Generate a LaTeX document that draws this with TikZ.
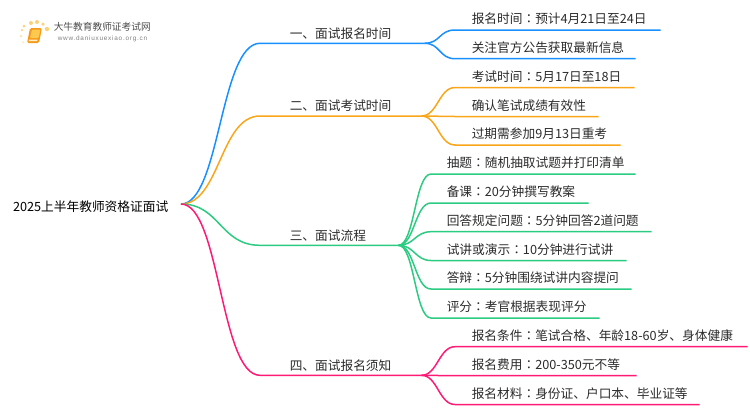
\documentclass[tikz,border=0pt]{standalone}
\usepackage{fontspec}
\setmainfont{Noto Sans CJK SC}
\newfontfamily\urlfont[LetterSpace=12]{Liberation Sans}
\newfontfamily\tcfont{Noto Sans CJK TC}
\newcommand{\cln}{{\tcfont ：}}
\definecolor{cblue}{HTML}{1890FF}
\definecolor{corange}{HTML}{FAA61A}
\definecolor{cgreen}{HTML}{2CCB82}
\definecolor{cpink}{HTML}{FF1A75}
\definecolor{cgrey}{HTML}{2B2B2B}
\definecolor{cbook}{HTML}{F59A1B}
\definecolor{cpage}{HTML}{FFC94F}
\definecolor{cdot}{HTML}{FBD27A}
\tikzset{
  every picture/.style={font=\fontsize{12.7}{15}\selectfont, line width=1.5pt},
  label/.style={anchor=south west, inner xsep=0pt, inner ysep=2.5pt, text=cgrey, text height=11pt, text depth=3pt},
  stem/.style={label, inner ysep=1.5pt, text width=#1, execute at begin node=\hspace*{29pt}},
  leaf/.style={label, text width=#1, execute at begin node=\hspace*{16pt}},
  sleaf/.style={label, text width=#1, execute at begin node=\hspace*{15pt}},
  link/.style={draw=#1, line width=1.5pt},
  dot/.style={circle, fill=cdot, inner sep=0pt, minimum size=#1},
}
\begin{document}
\begin{tikzpicture}[x=1pt, y=-1pt]
  \useasboundingbox (0,0) rectangle (750,410);
  % logo
  \foreach \n/\u/\v/\s in {d1/24/26/3pt, d2/31/23/4pt, d3/37/22/4pt, d4/43/24/3.5pt, d5/47/29/4.5pt, d6/22/30/2.5pt, d7/21/36/2pt, d8/23/42/1.5pt}
    \node[dot=\s] (\n) at (\u,\v) {};
  \fill[cbook, rounded corners=1.5pt] (30,28) -- (42,28) -- (39,43) -- (27,43) -- cycle;
  \fill[cpage, rounded corners=1pt] (32,29.5) -- (40.5,29.5) -- (38.5,38) -- (30,38) -- cycle;
  \fill[white!70!cpage] (29,39.5) -- (37.5,39.5) -- (37.2,41) -- (28.7,41) -- cycle;
  \node[anchor=west, inner sep=0pt, font=\fontsize{9.7}{12}\selectfont, text=black!70] (brand) at (53,27) {大牛教育教师证考试网};
  \node[anchor=west, inner sep=0pt, font=\urlfont\fontsize{6.4}{8}\selectfont, text=black!50] (site) at (57,39) {www.daniuxuexiao.org.cn};
  % root
  \node[anchor=east, inner xsep=12pt, inner ysep=0pt, text=black, text height=18pt, text depth=3pt] (root) at (181,204) {2025上半年教师资格证面试};
  % stems
  \node[stem=163pt] (a) at (260,43.3) {一、面试报名时间};
  \node[stem=160pt] (b) at (260,116) {二、面试考试时间};
  \node[stem=137pt] (c) at (260,245.3) {三、面试流程};
  \node[stem=160pt] (d) at (260,375.3) {四、面试报名须知};
  % leaves of the first stem
  \node[leaf=204pt] (a1) at (455,30) {报名时间\cln 预计4月21日至24日};
  \node[leaf=179pt] (a2) at (455,58.7) {关注官方公告获取最新信息};
  % leaves of the second stem
  \node[leaf=178pt] (b1) at (455,87.5) {考试时间\cln 5月17日至18日};
  \node[leaf=142pt] (b2) at (455,116.5) {确认笔试成绩有效性};
  \node[leaf=164pt] (b3) at (455,145) {过期需参加9月13日重考};
  % leaves of the third stem
  \node[sleaf=203pt] (c1) at (431,174) {抽题\cln 随机抽取试题并打印清单};
  \node[sleaf=156pt] (c2) at (431,203) {备课\cln 20分钟撰写教案};
  \node[sleaf=219pt] (c3) at (431,231.7) {回答规定问题\cln 5分钟回答2道问题};
  \node[sleaf=194pt] (c4) at (431,260.5) {试讲或演示\cln 10分钟进行试讲};
  \node[sleaf=199pt] (c5) at (431,289) {答辩\cln 5分钟围绕试讲内容提问};
  \node[sleaf=167pt] (c6) at (431,318) {评分\cln 考官根据表现评分};
  % leaves of the fourth stem
  \node[leaf=291pt] (d1) at (455,346.7) {报名条件\cln 笔试合格、年龄18-60岁、身体健康};
  \node[leaf=180pt] (d2) at (455,375.7) {报名费用\cln 200-350元不等};
  \node[leaf=243pt] (d3) at (455,404.5) {报名材料\cln 身份证、户口本、毕业证等};
  % connectors
  \foreach \v/\c in {a/cblue, b/corange, c/cgreen, d/cpink} {
    \draw[link=\c] (root.east) .. controls +(39,0) and +(-40,0) .. (\v.south west) -- (\v.south east);
  }
  \foreach \u/\v/\c in {a/a1/cblue, a/a2/cblue, b/b1/corange, b/b2/corange, b/b3/corange, d/d1/cpink, d/d2/cpink, d/d3/cpink, c/c1/cgreen, c/c2/cgreen, c/c3/cgreen, c/c4/cgreen, c/c5/cgreen, c/c6/cgreen} {
    \draw[link=\c] (\u.south east) .. controls +(16,0) and +(-16,0) .. (\v.south west) -- (\v.south east);
  }
\end{tikzpicture}
\end{document}
